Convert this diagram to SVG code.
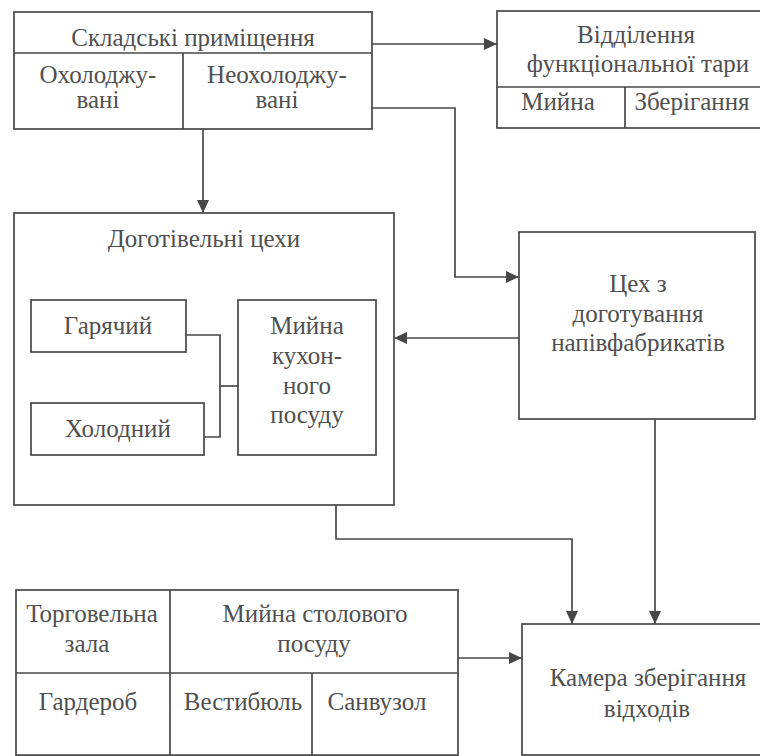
<svg xmlns="http://www.w3.org/2000/svg" width="760" height="756" viewBox="0 0 760 756">
  <style>
    .box { fill: none; stroke: #474747; stroke-width: 1.7; }
    .ln { fill: none; stroke: #474747; stroke-width: 1.7; }
    .t { font-family: "Liberation Serif", "Times New Roman", serif; font-size: 25px; fill: #505050; text-anchor: middle; }
  </style>
  <defs>
    <marker id="arrow" viewBox="0 0 13 12" refX="13" refY="6" markerWidth="13" markerHeight="12" markerUnits="userSpaceOnUse" orient="auto">
      <path d="M0,0 L13,6 L0,12 z" fill="#474747"/>
    </marker>
  </defs>
  <rect width="760" height="756" fill="#ffffff"/>

  <!-- Storage rooms: title row plus chilled / unchilled cells -->
  <g id="storage">
    <rect class="box" x="14" y="12" width="358" height="117"/>
    <line class="ln" x1="14" y1="53" x2="372" y2="53"/>
    <line class="ln" x1="183" y1="53" x2="183" y2="129"/>
    <text class="t" x="193" y="46">Складські приміщення</text>
    <text class="t" x="98" y="83">Охолоджу-</text>
    <text class="t" x="98" y="108">вані</text>
    <text class="t" x="277" y="83">Неохолоджу-</text>
    <text class="t" x="277" y="108">вані</text>
  </g>

  <!-- Returnable containers department (runs off the right edge) -->
  <g id="containers">
    <rect class="box" x="497" y="11" width="290" height="117"/>
    <line class="ln" x1="497" y1="87" x2="787" y2="87"/>
    <line class="ln" x1="625" y1="87" x2="625" y2="128"/>
    <text class="t" x="636" y="43">Відділення</text>
    <text class="t" x="638" y="72">функціональної тари</text>
    <text class="t" x="558" y="110">Мийна</text>
    <text class="t" x="692" y="110">Зберігання</text>
  </g>

  <!-- Pre-cooking shops with their inner rooms -->
  <g id="precook">
    <rect class="box" x="14" y="213" width="380" height="292"/>
    <text class="t" x="204" y="247">Доготівельні цехи</text>
  </g>
  <g id="hot">
    <rect class="box" x="31" y="300" width="155" height="52"/>
    <text class="t" x="108" y="334">Гарячий</text>
  </g>
  <g id="cold">
    <rect class="box" x="31" y="403" width="173" height="52"/>
    <text class="t" x="118" y="437">Холодний</text>
  </g>
  <g id="kitchen-wash">
    <rect class="box" x="238" y="300" width="138" height="155"/>
    <text class="t" x="307" y="334">Мийна</text>
    <text class="t" x="307" y="364">кухон-</text>
    <text class="t" x="307" y="394">ного</text>
    <text class="t" x="307" y="423">посуду</text>
  </g>

  <!-- Semi-finished products shop -->
  <g id="semi">
    <rect class="box" x="519" y="232" width="236" height="187"/>
    <text class="t" x="638" y="292">Цех з</text>
    <text class="t" x="638" y="322">доготування</text>
    <text class="t" x="638" y="351">напівфабрикатів</text>
  </g>

  <!-- Customer area block (runs off the bottom edge) -->
  <g id="hall">
    <rect class="box" x="16" y="590" width="442" height="166"/>
    <line class="ln" x1="16" y1="673" x2="458" y2="673"/>
    <line class="ln" x1="170" y1="590" x2="170" y2="756"/>
    <line class="ln" x1="312" y1="673" x2="312" y2="756"/>
    <line class="ln" x1="16" y1="755" x2="458" y2="755"/>
    <text class="t" x="92" y="622">Торговельна</text>
    <text class="t" x="87" y="652">зала</text>
    <text class="t" x="315" y="622">Мийна столового</text>
    <text class="t" x="314" y="652">посуду</text>
    <text class="t" x="88" y="710">Гардероб</text>
    <text class="t" x="243" y="710">Вестибюль</text>
    <text class="t" x="377" y="710">Санвузол</text>
  </g>

  <!-- Waste storage chamber -->
  <g id="waste">
    <rect class="box" x="522" y="624" width="260" height="131"/>
    <text class="t" x="648" y="686">Камера зберігання</text>
    <text class="t" x="647" y="717">відходів</text>
  </g>

  <!-- Connectors -->
  <g id="connectors">
    <path class="ln" d="M372,44 H497" marker-end="url(#arrow)"/>
    <path class="ln" d="M372,108 H455 V277 H519" marker-end="url(#arrow)"/>
    <path class="ln" d="M203,129 V213" marker-end="url(#arrow)"/>
    <path class="ln" d="M519,338 H394" marker-end="url(#arrow)"/>
    <path class="ln" d="M336,505 V539 H572 V624" marker-end="url(#arrow)"/>
    <path class="ln" d="M655,419 V624" marker-end="url(#arrow)"/>
    <path class="ln" d="M458,658 H522" marker-end="url(#arrow)"/>
    <path class="ln" d="M186,335 H220 V437 H204"/>
    <path class="ln" d="M220,386 H238"/>
  </g>
</svg>
